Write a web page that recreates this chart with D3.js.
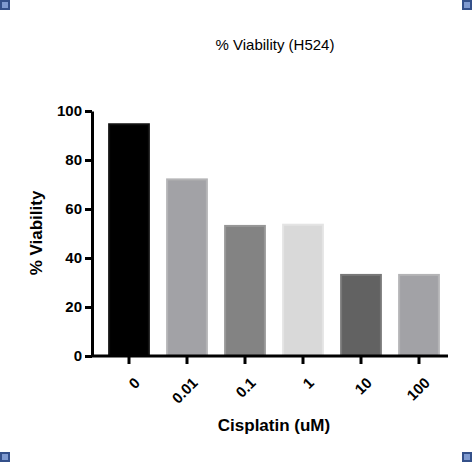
<!DOCTYPE html>
<html><head><meta charset="utf-8">
<script src="https://cdn.jsdelivr.net/npm/d3@7"></script>
<style>body{margin:0;background:#fff}text{font-family:"Liberation Sans",Arial,sans-serif}</style>
</head><body><svg id="c" width="472" height="462"></svg>
<script>
const categories = ["0", "0.01", "0.1", "1", "10", "100"];
const viability = [95, 72.5, 53.5, 54, 33.5, 33.5];
const fills = ["#000000", "#a2a2a6", "#838383", "#d9d9d9", "#626262", "#a2a2a6"];
const strokes = ["#111111", "#b4b4b6", "#979797", "#e4e4e4", "#787878", "#b4b4b6"];
const yTicks = [0, 20, 40, 60, 80, 100];

const svg = d3.select("#c");
const plotLeft = 92, plotRight = 448, plotTop = 111, plotBottom = 356;

const x = d3.scaleBand().domain(categories).range([plotLeft + 8, plotRight]).paddingInner(0.28).paddingOuter(0.14);
const y = d3.scaleLinear().domain([0, 100]).range([plotBottom, plotTop]);

// corner markers
[[0, 0], [462, 0], [0, 452], [462, 452]].forEach(([cx, cy]) => {
    svg.append("rect").attr("x", cx).attr("y", cy).attr("width", 10).attr("height", 10).attr("fill", "#34508a");
    svg.append("rect").attr("x", cx + 2).attr("y", cy + 2).attr("width", 6).attr("height", 6).attr("fill", "#7f9ad0");
});

svg.selectAll("rect.bar").data(viability).join("rect").attr("class", "bar")
    .attr("x", (d, i) => x(categories[i]) + 1)
    .attr("width", x.bandwidth() - 2)
    .attr("y", d => y(d) + 1)
    .attr("height", d => plotBottom - y(d) - 1)
    .attr("fill", (d, i) => fills[i])
    .attr("stroke", (d, i) => strokes[i]).attr("stroke-width", 2);

const yAxis = svg.append("g").attr("transform", `translate(${plotLeft},0)`)
    .call(d3.axisLeft(y).tickValues(yTicks).tickSize(7).tickSizeOuter(0));
const xAxis = svg.append("g").attr("transform", `translate(0,${plotBottom})`)
    .call(d3.axisBottom(x).tickSize(8).tickSizeOuter(0));
xAxis.select(".domain").attr("d", `M${plotLeft},0H${plotRight}`);
[yAxis, xAxis].forEach(g => {
    g.selectAll(".domain,line").attr("stroke", "#000").attr("stroke-width", 3);
    g.selectAll("text").attr("font-size", 15).attr("font-weight", "bold").attr("fill", "#000");
});
yAxis.selectAll("text").attr("x", -10);
xAxis.selectAll("text").attr("text-anchor", "end").attr("dy", 0)
    .attr("transform", "translate(4,20) rotate(-45)");

svg.append("text").attr("x", 275).attr("y", 50).attr("text-anchor", "middle")
    .attr("font-size", 15).text("% Viability (H524)");
svg.append("text").attr("x", 274).attr("y", 431).attr("text-anchor", "middle")
    .attr("font-size", 17).attr("font-weight", "bold").text("Cisplatin (uM)");
svg.append("text").attr("transform", "translate(42,233) rotate(-90)").attr("text-anchor", "middle")
    .attr("font-size", 17).attr("font-weight", "bold").text("% Viability");
</script></body></html>
